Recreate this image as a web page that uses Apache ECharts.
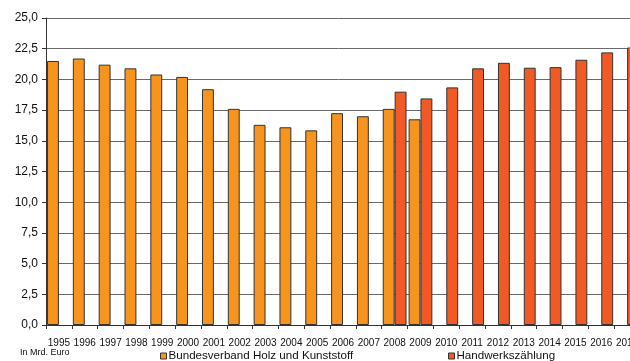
<!DOCTYPE html>
<html>
<head>
<meta charset="utf-8">
<script src="https://cdn.jsdelivr.net/npm/echarts@6/dist/echarts.min.js"></script>
<style>
  html, body { margin: 0; padding: 0; background: #fff; }
  #chart { width: 630px; height: 361px; }
</style>
</head>
<body>
<div id="chart"></div>
<script>
// Umsatz in Mrd. Euro, 1995–2017
const years = ['1995','1996','1997','1998','1999','2000','2001','2002','2003','2004','2005','2006',
               '2007','2008','2009','2010','2011','2012','2013','2014','2015','2016','2017'];

const bundesverband = [21.5, 21.7, 21.2, 20.9, 20.4, 20.2, 19.2, 17.6, 16.3, 16.1, 15.85, 17.25,
                       17.0, 17.6, 16.75, null, null, null, null, null, null, null, null];

const handwerkszaehlung = [null, null, null, null, null, null, null, null, null, null, null, null,
                           null, 19.0, 18.45, 19.35, 20.9, 21.35, 20.95, 21.0, 21.6, 22.2, 22.6];

const yTicks = { min: 0, max: 25, interval: 2.5 };

const FONT = '"Liberation Sans", Arial, sans-serif';
const chart = echarts.init(document.getElementById('chart'));

chart.setOption({
  animation: false,
  backgroundColor: '#ffffff',
  grid: {
    left: 46, top: 18, bottom: 36, width: 594,
    containLabel: false, outerBoundsMode: 'none'
  },
  xAxis: {
    type: 'category',
    data: years,
    axisLine: { show: true, lineStyle: { color: '#333', width: 1 } },
    axisTick: { show: true, alignWithLabel: false, length: 4, lineStyle: { color: '#333' } },
    axisLabel: { interval: 0, fontSize: 10, color: '#111', margin: 13, fontFamily: FONT },
    splitLine: { show: false }
  },
  yAxis: {
    type: 'value',
    min: yTicks.min,
    max: yTicks.max,
    interval: yTicks.interval,
    axisLine: { show: true, lineStyle: { color: '#333', width: 1 } },
    axisTick: { show: true, length: 4, lineStyle: { color: '#333' } },
    axisLabel: {
      fontSize: 12, color: '#111', margin: 8, fontFamily: FONT,
      formatter: v => v.toFixed(1).replace('.', ',')
    },
    splitLine: { show: true, lineStyle: { color: '#6a6a6a', width: 1 } }
  },
  legend: [
    {
      data: ['Bundesverband Holz und Kunststoff'],
      left: 160, top: 350, padding: 0,
      icon: 'rect', itemWidth: 6, itemHeight: 6,
      itemStyle: { borderColor: '#333', borderWidth: 1 },
      textStyle: { fontSize: 11.6, color: '#111', fontFamily: FONT, padding: [0, 0, 0, -3] }
    },
    {
      data: ['Handwerkszählung'],
      left: 448, top: 350, padding: 0,
      icon: 'rect', itemWidth: 6, itemHeight: 6,
      itemStyle: { borderColor: '#333', borderWidth: 1 },
      textStyle: { fontSize: 11.6, color: '#111', fontFamily: FONT, padding: [0, 0, 0, -3] }
    }
  ],
  graphic: [
    {
      type: 'text', left: 20, top: 348,
      style: { text: 'In Mrd. Euro', fontSize: 9, fill: '#111', fontFamily: FONT }
    }
  ],
  series: [
    {
      name: 'Bundesverband Holz und Kunststoff',
      type: 'bar',
      data: bundesverband,
      barGap: '0%',
      barCategoryGap: '8%',
      itemStyle: { color: '#F7941E', borderColor: '#333', borderWidth: 1 }
    },
    {
      name: 'Handwerkszählung',
      type: 'bar',
      data: handwerkszaehlung,
      barGap: '0%',
      barCategoryGap: '8%',
      itemStyle: { color: '#F15A24', borderColor: '#333', borderWidth: 1 }
    }
  ]
});
</script>
</body>
</html>
